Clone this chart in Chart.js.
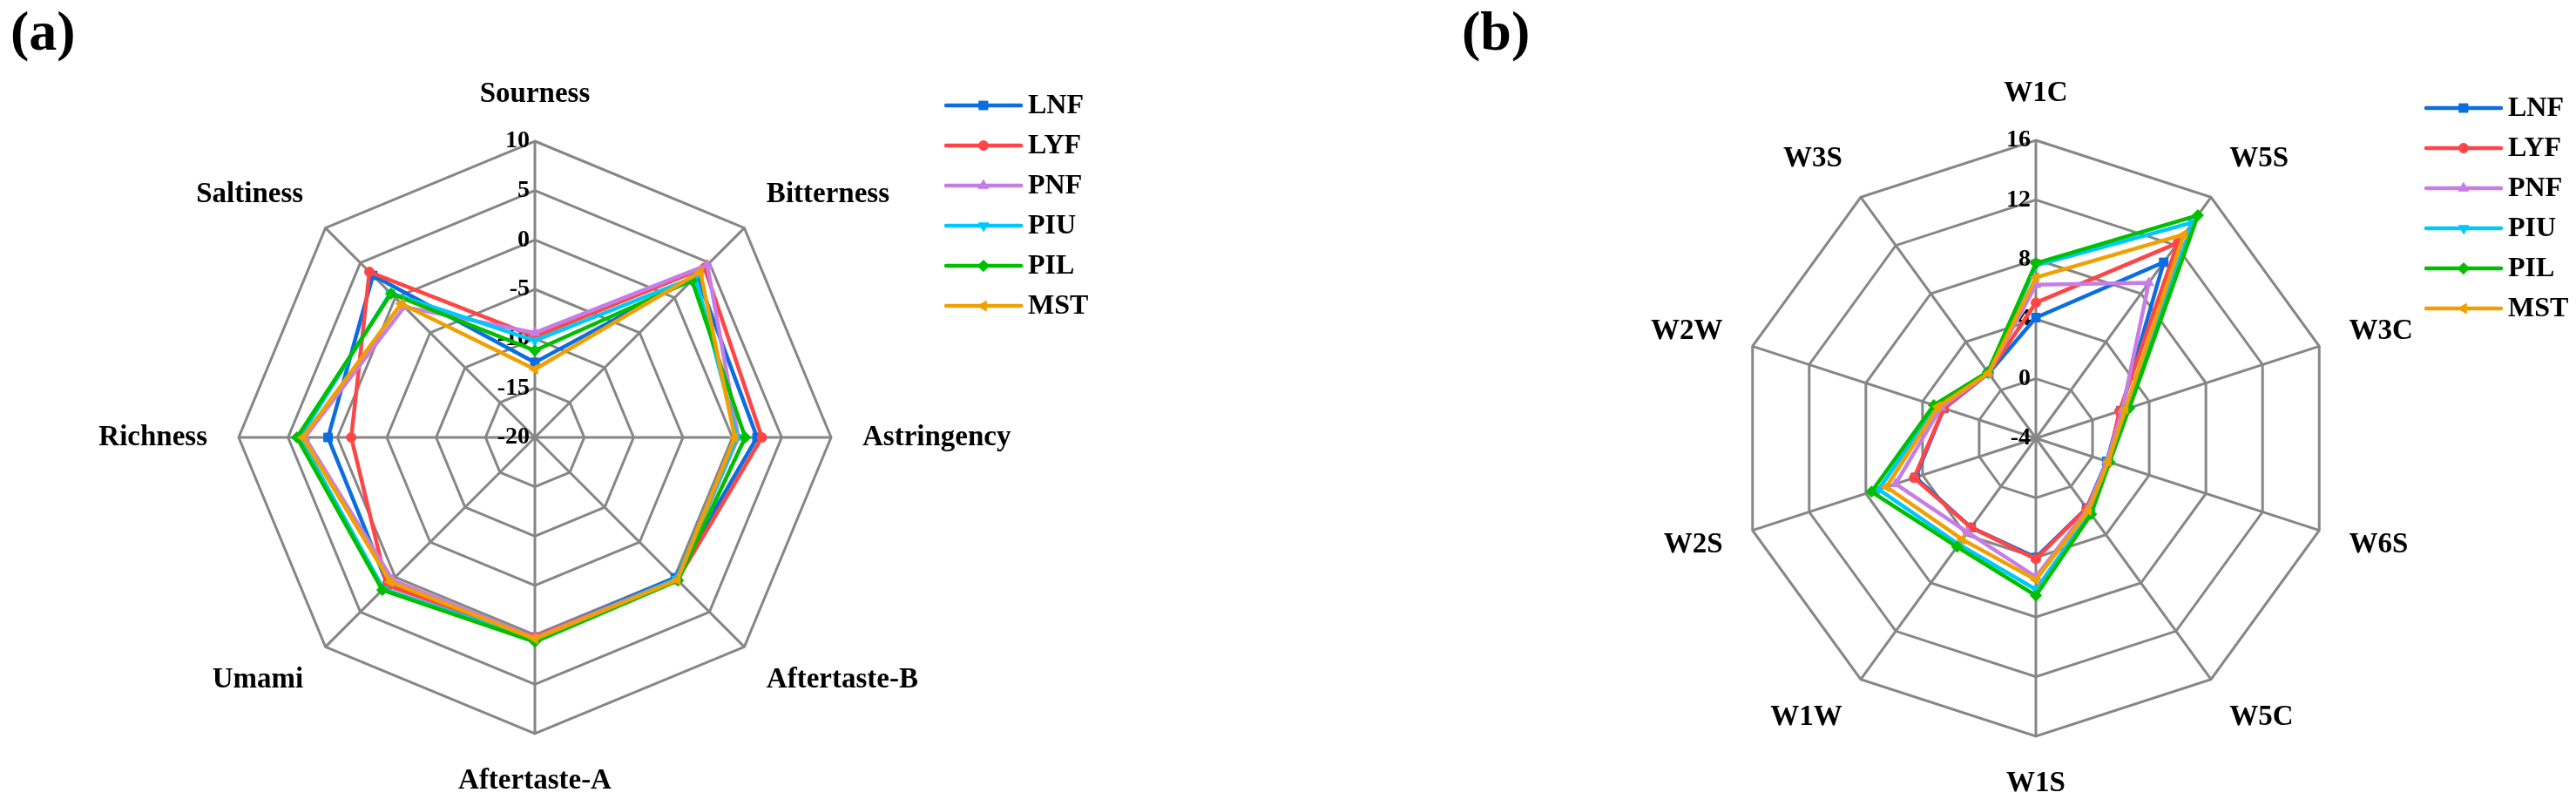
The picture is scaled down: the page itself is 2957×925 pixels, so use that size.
<!DOCTYPE html>
<html>
<head>
<meta charset="utf-8">
<title>Radar charts</title>
<script src="https://cdn.jsdelivr.net/npm/chart.js@4/dist/chart.umd.min.js"></script>
<style>
  body { margin: 0; background: #fff; }
  #wrap { position: relative; width: 2957px; height: 925px; overflow: hidden; }
  canvas { position: absolute; top: 0; }
  #chartA { left: 0; }
  #chartB { left: 1478px; }
</style>
</head>
<body>
<div id="wrap">
  <canvas id="chartA" width="1478" height="925"></canvas>
  <canvas id="chartB" width="1479" height="925"></canvas>
</div>
<script>
// --- data (a): electronic tongue ---
var tasteLabels = ['Sourness', 'Bitterness', 'Astringency', 'Aftertaste-B', 'Aftertaste-A', 'Umami', 'Richness', 'Saltiness'];
var tasteLNF = [-12.4, 3.2, 2.5, 0.1, 0.3, 1.1, 0.95, 3.2];
var tasteLYF = [-9.8, 4.3, 3.0, 0.4, 0.2, 1.2, -1.4, 3.7];
var tastePNF = [-9.4, 4.7, 0.6, 0.3, 0.3, 0.4, 3.3, -1.3];
var tastePIU = [-10.2, 3.0, 0.5, 0.3, 0.5, 1.7, 3.8, 0.7];
var tastePIL = [-11.2, 2.5, 1.3, 0.5, 0.7, 1.85, 4.1, 0.6];
var tasteMST = [-13.1, 3.7, 0.25, 0.4, 0.4, 0.7, 3.5, -0.85];
var tasteTicks = { min: -20, max: 10, step: 5 };

// --- data (b): electronic nose ---
var noseLabels = ['W1C', 'W5S', 'W3C', 'W6S', 'W5C', 'W1S', 'W1W', 'W2S', 'W2W', 'W3S'];
var noseLNF = [4.1, 10.6, 2.0, 1.0, 1.8, 4.0, 3.4, 4.5, 2.5, 1.4];
var noseLYF = [5.1, 12.2, 1.9, 1.1, 1.8, 4.1, 3.4, 4.6, 2.5, 1.4];
var nosePNF = [6.3, 8.9, 2.1, 1.0, 1.9, 5.3, 3.8, 5.9, 2.7, 1.4];
var nosePIU = [7.6, 13.9, 2.4, 1.1, 2.2, 6.15, 4.8, 7.1, 3.0, 1.4];
var nosePIL = [7.75, 14.5, 2.6, 1.2, 2.3, 6.55, 5.0, 7.6, 3.2, 1.5];
var noseMST = [6.8, 12.9, 2.3, 1.1, 2.0, 5.5, 4.4, 6.55, 2.9, 1.4];
var noseTicks = { min: -4, max: 16, step: 4 };

var seriesNames = ['LNF', 'LYF', 'PNF', 'PIU', 'PIL', 'MST'];

// styles of each series
var seriesStyle = [
  { color: '#0a6ee0', point: 'rect', rot: 0, r: 7 },
  { color: '#ff4545', point: 'circle', rot: 0, r: 5.5 },
  { color: '#c77de6', point: 'triangle', rot: 0, r: 6.5 },
  { color: '#00c8fa', point: 'triangle', rot: 180, r: 6.5 },
  { color: '#00be00', point: 'rectRot', rot: 0, r: 6.5 },
  { color: '#f0a000', point: 'triangle', rot: 270, r: 6.5 }
];

var serif = "'Liberation Serif', 'Times New Roman', serif";
var gridColor = '#868686';

function makeDatasets(values) {
  return values.map(function(v, i) {
    var s = seriesStyle[i];
    return {
      label: seriesNames[i],
      data: v,
      borderColor: s.color,
      backgroundColor: s.color,
      pointBackgroundColor: s.color,
      pointBorderColor: s.color,
      borderWidth: 4.5,
      pointStyle: s.point,
      pointRotation: s.rot,
      pointRadius: s.r,
      pointBorderWidth: 1,
      fill: false,
      tension: 0,
      // Excel draws the last series on top
      order: values.length - i
    };
  });
}

// labels, ticks and legend drawn like the Excel original
var excelPlugin = {
  id: 'excelLabels',
  beforeDatasetsDraw: function(chart) {
    var scale = chart.scales.r;
    var ctx = chart.ctx;
    ctx.save();
    ctx.fillStyle = '#000';
    ctx.font = 'bold 28px ' + serif;
    ctx.textAlign = 'right';
    ctx.textBaseline = 'middle';
    scale.ticks.forEach(function(t) {
      var d = scale.getDistanceFromCenterForValue(t.value);
      ctx.fillText(t.label !== undefined ? t.label : String(t.value), scale.xCenter - 6, scale.yCenter - d);
    });
    ctx.restore();
  },
  afterDraw: function(chart, args, opts) {
    var scale = chart.scales.r;
    var ctx = chart.ctx;
    var R = scale.drawingArea;
    ctx.save();
    ctx.fillStyle = '#000';

    // axis names
    ctx.font = 'bold 33px ' + serif;
    ctx.textBaseline = 'middle';
    chart.data.labels.forEach(function(label, i) {
      var p = scale.getPointPosition(i, R + 36);
      var a = p.angle + Math.PI / 2;
      var s = Math.sin(a), c = Math.cos(a);
      ctx.textAlign = Math.abs(s) < 0.1 ? 'center' : (s > 0 ? 'left' : 'right');
      ctx.fillText(label, p.x, p.y - c * 18);
    });

    // legend: line with marker in the middle
    var lg = opts.legend;
    chart.data.datasets.forEach(function(ds, i) {
      var y = lg.y + i * lg.gap;
      ctx.strokeStyle = ds.borderColor;
      ctx.lineWidth = 4.5;
      ctx.lineCap = 'round';
      ctx.beginPath();
      ctx.moveTo(lg.x, y);
      ctx.lineTo(lg.x + lg.len, y);
      ctx.stroke();
      ctx.fillStyle = ds.borderColor;
      ctx.lineWidth = 1;
      Chart.helpers.drawPoint(ctx, {
        pointStyle: ds.pointStyle,
        rotation: ds.pointRotation,
        radius: ds.pointRadius,
        borderWidth: 1
      }, lg.x + lg.len / 2, y);
      ctx.fillStyle = '#000';
      ctx.font = 'bold 32px ' + serif;
      ctx.textAlign = 'left';
      ctx.textBaseline = 'middle';
      ctx.fillText(ds.label, lg.x + lg.len + 8, y + 1);
    });

    // panel letter
    ctx.font = 'bold 64px ' + serif;
    ctx.textAlign = 'left';
    ctx.textBaseline = 'alphabetic';
    ctx.fillText(opts.panel.text, opts.panel.x, opts.panel.y);
    ctx.restore();
  }
};

function makeRadar(id, labels, values, ticks, pad, legend, panel) {
  var ctx = document.getElementById(id).getContext('2d');
  return new Chart(ctx, {
    type: 'radar',
    data: {
      labels: labels,
      datasets: makeDatasets(values)
    },
    options: {
      responsive: false,
      animation: false,
      layout: { padding: pad },
      plugins: {
        legend: { display: false },
        tooltip: { enabled: false },
        excelLabels: { legend: legend, panel: panel }
      },
      scales: {
        r: {
          min: ticks.min,
          max: ticks.max,
          ticks: { stepSize: ticks.step, display: false },
          grid: { color: gridColor, lineWidth: 3 },
          angleLines: { color: gridColor, lineWidth: 3 },
          pointLabels: { display: false }
        }
      }
    },
    plugins: [excelPlugin]
  });
}

makeRadar('chartA', tasteLabels,
  [tasteLNF, tasteLYF, tastePNF, tastePIU, tastePIL, tasteMST], tasteTicks,
  { left: 274, top: 162, right: 524, bottom: 83 },
  { x: 1086, y: 121, gap: 46, len: 86 },
  { text: '(a)', x: 12, y: 57 });

makeRadar('chartB', noseLabels,
  [noseLNF, noseLYF, nosePNF, nosePIU, nosePIL, noseMST], noseTicks,
  { left: 517, top: 161, right: 278, bottom: 80 },
  { x: 1307, y: 124, gap: 46, len: 86 },
  { text: '(b)', x: 200, y: 57 });
</script>
</body>
</html>
